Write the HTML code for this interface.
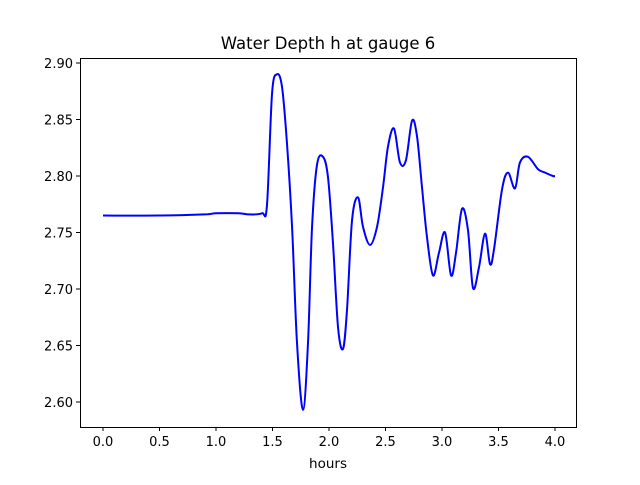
<!DOCTYPE html>
<html><head><meta charset="utf-8"><style>
body{margin:0;background:#fff}
svg{font-family:"DejaVu Sans","Liberation Sans",sans-serif}
</style></head><body>
<svg id="c" width="640" height="480">
<rect x="0" y="0" width="640" height="480" fill="#fff"/>
<text x="328" y="49" font-size="16.5" text-anchor="middle">Water Depth h at gauge 6</text>
<text x="328" y="468" font-size="13.5" text-anchor="middle">hours</text>
<g id="ticks"></g>
<path id="line" fill="none" stroke="#0000ff" stroke-width="2"/>
<rect x="80.5" y="58.5" width="496" height="369" fill="none" stroke="#000" stroke-width="1"/>
</svg>
<script>
const hours=[0,0.5,0.9,1.0,1.2,1.3,1.407,1.451,1.496,1.540,1.584,1.628,1.673,1.717,1.770,1.814,1.850,1.894,1.947,1.991,2.035,2.080,2.124,2.159,2.204,2.257,2.301,2.363,2.425,2.478,2.522,2.575,2.628,2.681,2.735,2.779,2.823,2.867,2.920,2.973,3.027,3.080,3.124,3.177,3.230,3.274,3.327,3.381,3.425,3.460,3.531,3.584,3.646,3.690,3.761,3.850,3.912,3.982,4.0];
const depth=[2.765,2.765,2.766,2.767,2.767,2.766,2.767,2.774,2.873,2.890,2.879,2.829,2.755,2.652,2.593,2.652,2.755,2.810,2.817,2.799,2.741,2.666,2.647,2.681,2.761,2.781,2.755,2.739,2.755,2.790,2.826,2.842,2.812,2.814,2.849,2.835,2.790,2.746,2.712,2.732,2.750,2.712,2.732,2.771,2.752,2.701,2.719,2.749,2.722,2.735,2.788,2.803,2.789,2.812,2.817,2.806,2.803,2.800,2.800];
const xTicks=[0,0.5,1.0,1.5,2.0,2.5,3.0,3.5,4.0];
const yTicks=[2.60,2.65,2.70,2.75,2.80,2.85,2.90];
const X=h=>103+h*113, Y=v=>63+(2.90-v)*1130;
const NS="http://www.w3.org/2000/svg";
const g=document.getElementById('ticks');
function mk(t,a){const e=document.createElementNS(NS,t);for(const k in a)e.setAttribute(k,a[k]);g.appendChild(e);return e;}
xTicks.forEach(t=>{const x=X(t);
 const l=mk('line',{x1:x,x2:x,y1:427,y2:431,stroke:'#000'});
 
 
 const s=mk('text',{x:x,y:446,'font-size':13,'text-anchor':'middle'});s.textContent=t.toFixed(1);
 
 });
yTicks.forEach(t=>{const y=Y(t);
 const l=mk('line',{x1:76,x2:80,y1:y,y2:y,stroke:'#000'});
 
 
 const s=mk('text',{x:73,y:y+5,'font-size':13,'text-anchor':'end'});s.textContent=t.toFixed(2);
 
 });
const P=hours.map((h,i)=>[X(h),Y(depth[i])]);
let d=`M${P[0][0]},${P[0][1]}`;
for(let i=0;i<P.length-1;i++){const p0=P[Math.max(0,i-1)],p1=P[i],p2=P[i+1],p3=P[Math.min(P.length-1,i+2)];
 d+=` C${p1[0]+(p2[0]-p0[0])/6},${p1[1]+(p2[1]-p0[1])/6} ${p2[0]-(p3[0]-p1[0])/6},${p2[1]-(p3[1]-p1[1])/6} ${p2[0]},${p2[1]}`;}
document.getElementById('line').setAttribute('d',d);
</script>
</body></html>
